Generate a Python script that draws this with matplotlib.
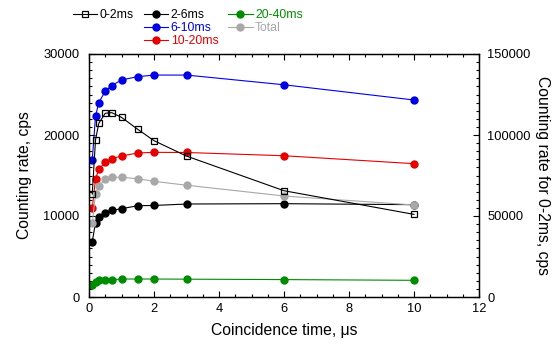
import matplotlib.pyplot as plt
from matplotlib.lines import Line2D
from matplotlib.ticker import MultipleLocator

plt.rcParams['font.family'] = ['Liberation Sans', 'DejaVu Sans']

# Coincidence times, us
t = [0.1, 0.2, 0.3, 0.5, 0.7, 1.0, 1.5, 2.0, 3.0, 6.0, 10.0]

# Counting rates, cps (left axis)
r_2_6 = [6830, 9170, 9900, 10400, 10700, 10900, 11270, 11300, 11480, 11520, 11400]
r_6_10 = [16900, 22300, 24000, 25400, 26100, 26800, 27200, 27400, 27400, 26200, 24320]
r_10_20 = [10950, 14570, 15760, 16630, 17080, 17400, 17780, 17860, 17840, 17440, 16460]
r_20_40 = [1440, 1810, 2060, 2130, 2130, 2220, 2220, 2220, 2200, 2150, 2060]
r_total = [9100, 12700, 13700, 14530, 14780, 14780, 14600, 14280, 13800, 12470, 11360]

# Counting rate for 0-2ms, cps (right axis)
r_0_2 = [63600, 96900, 107200, 113400, 113800, 110900, 103500, 96500, 87000, 65600, 51000]

c_black = '#000000'
c_blue = '#0000e6'
c_red = '#e60000'
c_green = '#008c00'
c_gray = '#a8a8a8'

fig = plt.figure(figsize=(5.55, 3.47), dpi=100)
ax = fig.add_axes([89 / 555, 1 - 297 / 347, 390 / 555, 243 / 347])
ax2 = ax.twinx()

kw = dict(marker='o', markersize=5, linewidth=0.8)
l26, = ax.plot(t, r_2_6, color=c_black, label='2-6ms', **kw)
l610, = ax.plot(t, r_6_10, color=c_blue, label='6-10ms', **kw)
l1020, = ax.plot(t, r_10_20, color=c_red, label='10-20ms', **kw)
l2040, = ax.plot(t, r_20_40, color=c_green, label='20-40ms', **kw)
ltot, = ax.plot(t, r_total, color=c_gray, label='Total', **kw)
# open squares, the line shows through them
l02, = ax2.plot(t, r_0_2, color=c_black, marker='s', markersize=5,
                markerfacecolor='none', markeredgewidth=0.9, linewidth=0.8, label='0-2ms')

ax.set_xlim(0, 12)
ax.set_ylim(0, 30000)
ax2.set_ylim(0, 150000)

ax.xaxis.set_major_locator(MultipleLocator(2))
ax.xaxis.set_minor_locator(MultipleLocator(0.5))
ax.yaxis.set_major_locator(MultipleLocator(10000))
ax.yaxis.set_minor_locator(MultipleLocator(1000))
ax2.yaxis.set_major_locator(MultipleLocator(50000))
ax2.yaxis.set_minor_locator(MultipleLocator(5000))

ax.tick_params(which='both', direction='in', top=True, right=False, labelsize=9.3)
ax.tick_params(which='major', length=4.5, width=0.8)
ax.tick_params(which='minor', length=2.5, width=0.8)
ax.tick_params(axis='y', pad=7)
ax.tick_params(axis='x', pad=4)
ax2.tick_params(which='both', direction='in', labelsize=9.3, pad=6)
ax2.tick_params(which='major', length=4.5, width=0.8)
ax2.tick_params(which='minor', length=2.5, width=0.8)

for sp in ax.spines.values():
    sp.set_linewidth(0.9)
for sp in ax2.spines.values():
    sp.set_linewidth(0.9)

ax.set_xlabel('Coincidence time, μs', fontsize=11.3, labelpad=6)
ax.set_ylabel('Counting rate, cps', fontsize=11.3, labelpad=8)
ax2.set_ylabel('Counting rate for 0-2ms, cps', fontsize=11.3, rotation=270, labelpad=14)

blank = Line2D([], [], linestyle='none')
handles = [l02, blank, blank, l26, l610, l1020, l2040, ltot, blank]
labels = ['0-2ms', '', '', '2-6ms', '6-10ms', '10-20ms', '20-40ms', 'Total', '']
leg = fig.legend(handles, labels, ncol=3, loc='upper left',
                 bbox_to_anchor=(73 / 555, 1 - 9 / 347), frameon=False,
                 fontsize=8.8, handlelength=2.0, handletextpad=0.2,
                 columnspacing=0.8, labelspacing=0.1, borderpad=0, borderaxespad=0)
text_colors = [c_black, c_black, c_black, c_black, c_blue, c_red, c_green, c_gray, c_black]
for txt, col in zip(leg.get_texts(), text_colors):
    txt.set_color(col)

fig.savefig('out.png', dpi=100)
